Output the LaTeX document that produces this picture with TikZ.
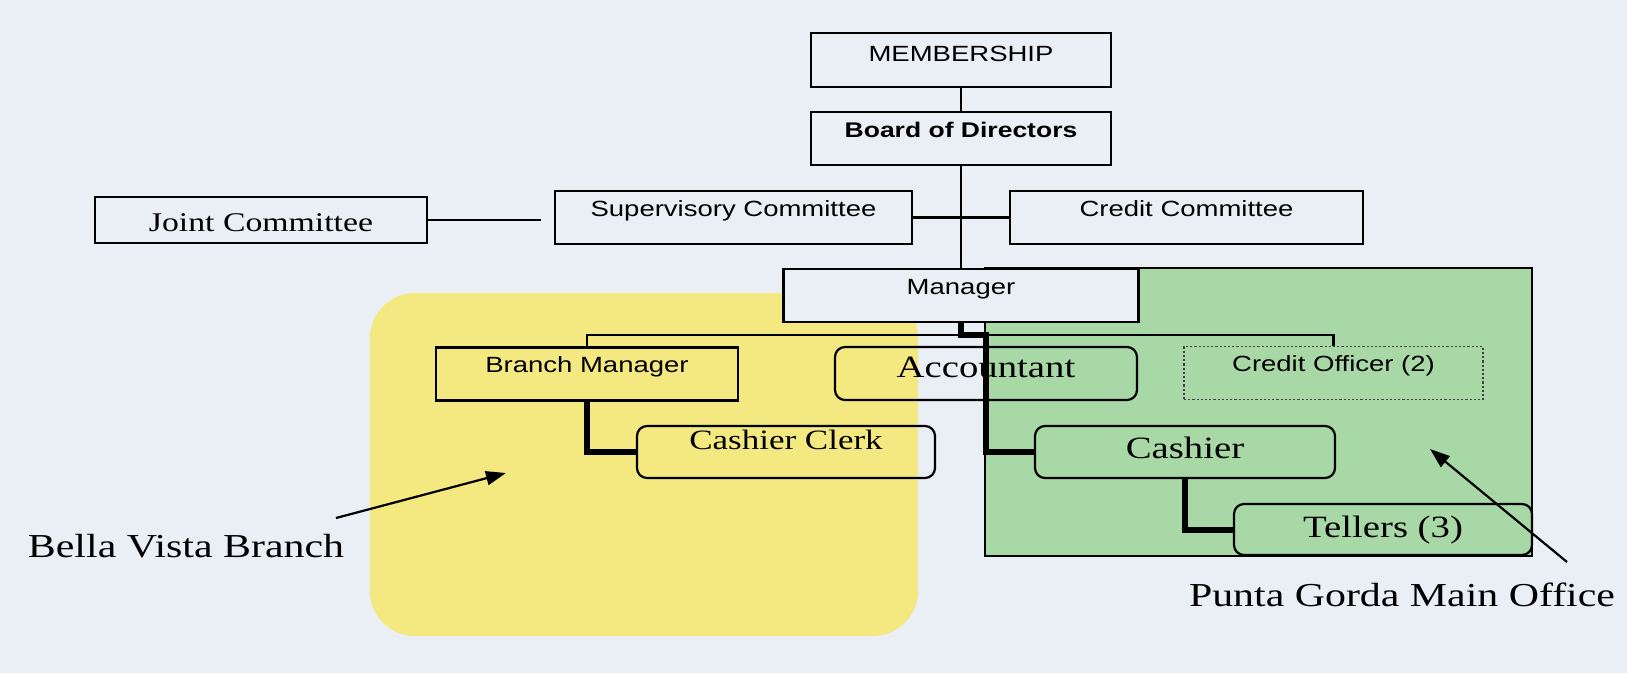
\documentclass[tikz,border=0pt]{standalone}
\usepackage{fontspec}
\setmainfont{Liberation Serif}[FakeStretch=1.25]
\setsansfont{Liberation Sans}[FakeStretch=1.25]
\usetikzlibrary{arrows.meta}
\definecolor{bg}{RGB}{234,238,245}
\definecolor{ylw}{RGB}{244,233,128}
\definecolor{grn}{RGB}{168,216,166}
\begin{document}
\begin{tikzpicture}[x=1pt,y=-1pt,
  sbox/.style={draw, line width=2.2pt, inner sep=0pt, text height=25pt, text depth=28pt,
    font=\sffamily\fontsize{22}{26}\selectfont},
  tbox/.style={draw, line width=2.2pt, inner sep=0pt, rounded corners=10pt, text height=28pt, text depth=24pt,
    font=\rmfamily\fontsize{31}{35}\selectfont},
  conn/.style={line width=2.2pt},
  heavy/.style={line width=6pt},
  arr/.style={line width=2.2pt, -{Triangle[length=20pt,width=14pt]}},
  lbl/.style={anchor=base, inner sep=0pt, font=\rmfamily\fontsize{33.5}{37}\selectfont}]
\useasboundingbox (0,0) rectangle (1627,673);
\fill[bg] (0,0) rectangle (1627,673);
% regions
\fill[ylw, rounded corners=45pt] (370,293) rectangle (918,636);
\filldraw[fill=grn, draw=black, line width=2.2pt] (985,268) rectangle (1532,556);
% boxes
\node[sbox, minimum width=300pt, text height=28pt, text depth=26pt] (membership) at (961,60) {MEMBERSHIP};
\node[sbox, minimum width=300pt, font=\sffamily\bfseries\fontsize{21.2}{25}\selectfont] (board) at (961,138.5) {Board of Directors};
\node[sbox, minimum width=357pt] (superv) at (733.5,217.5) {Supervisory Committee};
\node[sbox, minimum width=353pt] (credit) at (1186.5,217.5) {Credit Committee};
\node[draw, line width=2.2pt, inner sep=0pt, minimum width=332pt, text height=34pt, text depth=12pt,
  font=\rmfamily\fontsize{27}{31}\selectfont] (joint) at (261,220) {Joint Committee};
\node[sbox, minimum width=355pt, fill=bg] (manager) at (961,295.5) {Manager};
\node[sbox, minimum width=302pt] (branch) at (587,374) {Branch Manager};
\node[tbox, minimum width=302pt, text height=30pt, text depth=23pt] (accountant) at (986,373.5) {Accountant};
\node[sbox, minimum width=299pt, draw=black!75, dotted, line width=1.3pt] (creditoff) at (1333.5,373) {Credit Officer (2)};
\node[tbox, minimum width=298pt, text height=23pt, text depth=29pt, font=\rmfamily\fontsize{28}{32}\selectfont] (cclerk) at (786,452) {Cashier Clerk};
\node[tbox, minimum width=300pt, text height=32pt, text depth=20pt] (cashier) at (1185,452) {Cashier};
\node[tbox, minimum width=298pt, text height=33pt, text depth=18pt] (tellers) at (1383,529.5) {Tellers (3)};
% connectors
\coordinate (jend) at (541,220);
\draw[conn] (joint.east) -- (jend);
\draw[conn] (membership) -- (board);
\draw[conn] (board) -- (manager);
\draw[conn] (superv) -- (credit);
\coordinate (bus) at (587,335);
\draw[conn] (branch.north) -- (branch.north |- bus) -- (creditoff.north |- bus) -- (creditoff.north);
\coordinate (j1) at (986,335);
\draw[heavy] (manager.south) |- (j1) |- (cashier.west);
\draw[heavy] (branch.south) |- (cclerk.west);
\draw[heavy] (cashier.south) |- (tellers.west);
% labels and arrows
\node[lbl] (bella) at (186,557) {Bella Vista Branch};
\node[lbl] (punta) at (1402,606) {Punta Gorda Main Office};
\coordinate (bvs) at (336,518);
\coordinate (bvt) at (506,473);
\draw[arr] (bvs) -- (bvt);
\coordinate (pgs) at (1567,562);
\coordinate (pgt) at (1430,449);
\draw[arr] (pgs) -- (pgt);
\end{tikzpicture}
\end{document}
